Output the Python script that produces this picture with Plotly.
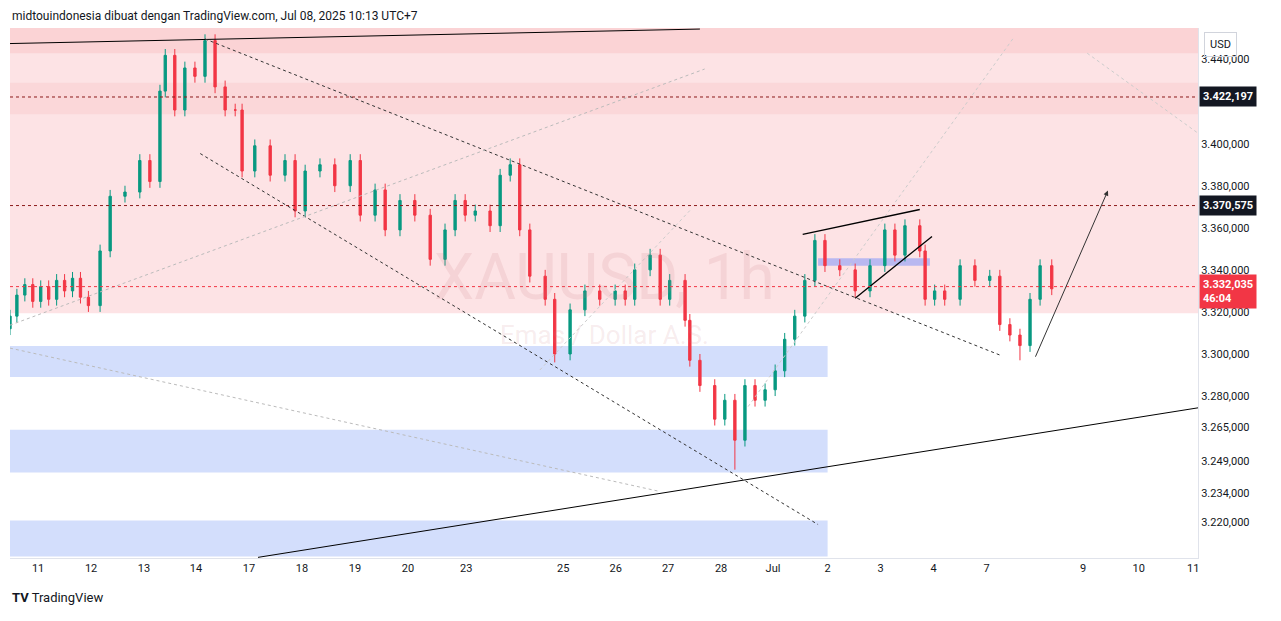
import plotly.graph_objects as go

# bar time in trading-day units (0 = Jun 11) and closing price
t = [-0.53, -0.4, -0.25, -0.1, 0.05, 0.2, 0.35, 0.5, 0.65, 0.8, 0.95, 1.17, 1.36, 1.64, 1.92, 2.11,
     2.30, 2.40, 2.58, 2.77, 2.96, 3.15, 3.34, 3.53, 3.72, 3.85, 4.09, 4.38, 4.66, 4.85, 5.04, 5.32,
     5.60, 5.89, 6.08, 6.36, 6.55, 6.83, 7.11, 7.40, 7.68, 7.87, 8.06, 8.25, 8.53, 8.72, 8.91, 9.09,
     9.28, 9.57, 9.75, 10.04, 10.32, 10.60, 10.89, 11.08, 11.26, 11.55, 11.74, 11.92, 12.21, 12.30,
     12.49, 12.77, 12.96, 13.15, 13.34, 13.53, 13.72, 13.91, 14.09, 14.28, 14.47, 14.66, 14.85,
     15.13, 15.42, 15.70, 15.98, 16.17, 16.36, 16.64, 16.74, 16.92, 17.11, 17.40, 17.68, 17.96,
     18.15, 18.34, 18.53, 18.72, 18.91, 19.13]
close = [3318, 3328, 3333, 3325, 3332, 3326, 3335, 3330, 3336, 3327, 3323, 3349, 3375, 3377, 3392, 3382,
         3425, 3442, 3416, 3436, 3432, 3449, 3427, 3416, 3416, 3387, 3399, 3385, 3392, 3368, 3387, 3390,
         3380, 3392, 3366, 3378, 3359, 3373, 3366, 3345, 3359, 3373, 3366, 3368, 3361, 3385, 3390, 3359,
         3337, 3326, 3300, 3321, 3330, 3326, 3330, 3326, 3340, 3347, 3326, 3335, 3316, 3297,
         3285, 3269, 3278, 3259, 3285, 3278, 3283, 3292, 3307, 3318, 3335, 3354, 3342,
         3340, 3330, 3342, 3359, 3347, 3361, 3349, 3326, 3330, 3326, 3342, 3335, 3337,
         3314, 3309, 3304, 3326, 3342, 3331]
first_open = 3312
low_wicks = {65: 3245, 90: 3297, 50: 3296}

tick_pos = [0, 1, 2, 2.98, 3.98, 4.98, 5.98, 6.98, 8.08, 9.91, 10.9, 11.89, 12.89, 13.87, 14.9,
            15.9, 16.9, 17.9, 19.72, 20.77, 21.8]
tick_lab = ["11", "12", "13", "14", "17", "18", "19", "20", "23", "25", "26", "27", "28", "Jul", "2",
            "3", "4", "7", "9", "10", "11"]
price_ticks = [3220, 3234, 3249, 3265, 3280, 3300, 3320, 3340, 3360, 3380, 3400, 3440]

opens = [first_open] + close[:-1]
highs = [max(o, c) + 3 for o, c in zip(opens, close)]
lows = [min(o, c) - 3 for o, c in zip(opens, close)]
for i, v in low_wicks.items():
    lows[i] = v


def idfmt(v):
    return f"{v:,.3f}".replace(",", "X").replace(".", ",").replace("X", ".")


fig = go.Figure()
X0, X1 = -0.53, 21.89
Y0, Y1 = 3203, 3455

# zones
fig.add_shape(type="rect", x0=X0, x1=X1, y0=3319.4, y1=Y1, fillcolor="#fde3e5", line_width=0, layer="below")
fig.add_shape(type="rect", x0=X0, x1=X1, y0=3443, y1=Y1, fillcolor="#fbd3d5", line_width=0, layer="below")
fig.add_shape(type="rect", x0=X0, x1=X1, y0=3414, y1=3429, fillcolor="#fbd7d9", line_width=0, layer="below")
for a, b in [(3289.1, 3303.8), (3243.6, 3264), (3203.7, 3220.8)]:
    fig.add_shape(type="rect", x0=X0, x1=14.9, y0=a, y1=b, fillcolor="#d3defc", line_width=0, layer="below")
fig.add_shape(type="rect", x0=14.72, x1=16.83, y0=3342, y1=3345.5, fillcolor="#b9b8f0", line_width=0, layer="below")

fig.add_annotation(x=0.5, y=0.53, xref="paper", yref="paper", text="XAUUSD, 1h", showarrow=False,
                   font=dict(size=64, color="rgba(200,120,130,0.15)", family="Roboto"))
fig.add_annotation(x=0.5, y=0.42, xref="paper", yref="paper", text="Emas / Dollar A.S.", showarrow=False,
                   font=dict(size=26, color="rgba(200,120,130,0.15)", family="Roboto"))

fig.add_trace(go.Candlestick(x=t, open=opens, high=highs, low=lows, close=close,
                             increasing=dict(line=dict(color="#089981", width=1), fillcolor="#089981"),
                             decreasing=dict(line=dict(color="#f23645", width=1), fillcolor="#f23645"),
                             whiskerwidth=0, showlegend=False, hoverinfo="skip"))

lines = [
    ((X0, 3447.6), (12.49, 3454.5), "black", "solid", 1),
    ((4.15, 3203.3), (X1, 3274.4), "black", "solid", 1),
    ((3.15, 3449.8), (18.15, 3299.5), "#333", "dot", 1),
    ((3.06, 3395.3), (14.72, 3218.9), "#333", "dot", 1),
    ((X0, 3313.7), (12.58, 3435.5), "#bbb", "dot", 1),
    ((X0, 3302.8), (11.74, 3234.6), "#bbb", "dot", 1),
    ((9.47, 3292.4), (12.30, 3368.2), "#ccc", "dot", 1),
    ((13.4, 3275), (18.4, 3450), "#ccc", "dot", 1),
    ((19.8, 3443), (X1, 3405), "#ccc", "dot", 1),
    ((14.43, 3356.9), (16.64, 3368.7), "black", "solid", 1.3),
    ((15.42, 3326.5), (16.87, 3355.9), "black", "solid", 1.3),
]
for (a, b), (c, d), col, dash, w in lines:
    fig.add_shape(type="line", x0=a, y0=b, x1=c, y1=d, line=dict(color=col, dash=dash, width=w))

fig.add_annotation(x=20.19, y=3377.7, ax=18.81, ay=3298, xref="x", yref="y", axref="x", ayref="y",
                   text="", showarrow=True, arrowhead=2, arrowwidth=1, arrowcolor="#333")

for lvl, col, bg, txt, ys in [(3422.197, "#8b1a1a", "#131722", idfmt(3422.197), 0),
                              (3370.575, "#8b1a1a", "#131722", idfmt(3370.575), 0),
                              (3332.035, "#f23645", "#f23645", idfmt(3332.035) + "<br>46:04", -5)]:
    fig.add_hline(y=lvl, line=dict(color=col, dash="dot", width=1))
    fig.add_annotation(x=1.0, y=lvl, xref="paper", yref="y", xanchor="left", text="<b>" + txt + "</b>",
                       showarrow=False, bgcolor=bg, font=dict(color="white", size=11, family="Roboto"),
                       align="left", xshift=1, yshift=ys, borderpad=3)

fig.add_annotation(x=1.0, y=1.0, xref="paper", yref="paper", xanchor="left", yanchor="top", text="USD",
                   showarrow=False, xshift=6, yshift=-4, bordercolor="#d1d4dc", borderwidth=1, borderpad=5,
                   font=dict(size=11, color="#131722"))
fig.add_annotation(x=0, y=1, xref="paper", yref="paper", xanchor="left", yanchor="bottom", yshift=3,
                   text="midtouindonesia dibuat dengan TradingView.com, Jul 08, 2025 10:13 UTC+7",
                   showarrow=False, font=dict(size=12, color="#131722"))
fig.add_annotation(x=0, y=0, xref="paper", yref="paper", xanchor="left", yanchor="top", yshift=-30,
                   text="<b>TV</b> TradingView", showarrow=False, font=dict(size=13, color="#131722"))

fig.update_layout(
    width=1265, height=605, margin=dict(l=2, r=75, t=20, b=55),
    paper_bgcolor="white", plot_bgcolor="white", font=dict(family="Roboto", color="#131722"),
    xaxis=dict(range=[X0, X1], tickvals=tick_pos, ticktext=tick_lab, showgrid=False, rangeslider_visible=False,
               tickfont=dict(size=11), ticks="", zeroline=False, showline=True, linecolor="#e0e3eb"),
    yaxis=dict(range=[Y0, Y1], side="right", tickvals=price_ticks, ticktext=[idfmt(v) for v in price_ticks],
               showgrid=False, tickfont=dict(size=11), zeroline=False, showline=True, linecolor="#e0e3eb",
               ticks=""),
)
fig.write_html("out.html")
